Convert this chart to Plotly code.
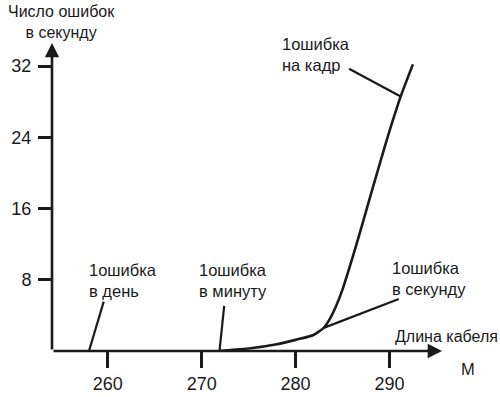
import plotly.graph_objects as go

# ---- data ----
cable_len = [271.8, 275.2, 278.0, 280.0, 281.9, 283.0, 283.7, 284.3, 285.0, 286.5, 288.0, 289.6, 291.2, 292.5]
errors_per_sec = [0.0, 0.3, 0.75, 1.25, 1.8, 2.6, 3.7, 5.0, 6.9, 12.0, 17.5, 23.3, 28.6, 32.2]

x_ticks = [260, 270, 280, 290]
y_ticks = [8, 16, 24, 32]

# leader lines: (label point -> curve point)
leader_day_x, leader_day_y = [259.57, 258.0], [5.55, 0.0]
leader_min_x, leader_min_y = [272.4, 271.9], [5.06, 0.0]
leader_sec_x, leader_sec_y = [291.0, 283.0], [5.85, 2.6]
leader_frame_x, leader_frame_y = [285.7, 291.2], [31.7, 28.6]

labels = ["1ошибка<br>в день", "1ошибка<br>в минуту", "1ошибка<br>в секунду", "1ошибка<br>на кадр"]

INK = "#1a1a1a"
TXT_FONT = "Liberation Sans, Arial"
NUM_FONT = "Liberation Sans, Arial"
TXT_SIZE = 16.5

X0, X1 = 254.06, 295.6
Y0, Y1 = 0.0, 34.6

W, H = 500, 397

fig = go.Figure()
fig.add_trace(go.Scatter(x=cable_len, y=errors_per_sec, mode="lines",
                         line=dict(color=INK, width=2.6, shape="spline", smoothing=0.5),
                         cliponaxis=False, hoverinfo="skip"))
for lx, ly in [(leader_day_x, leader_day_y), (leader_min_x, leader_min_y),
               (leader_sec_x, leader_sec_y), (leader_frame_x, leader_frame_y)]:
    fig.add_trace(go.Scatter(x=lx, y=ly, mode="lines", line=dict(color=INK, width=2.2),
                             cliponaxis=False, hoverinfo="skip"))

ann = []
# axis lines with arrows
ann.append(dict(x=X1, y=0, ax=X0, ay=0, xref="x", yref="y", axref="x", ayref="y",
                showarrow=True, arrowhead=2, arrowsize=1.1, arrowwidth=2.6, arrowcolor=INK, text=""))
ann.append(dict(x=X0, y=Y1, ax=X0, ay=0, xref="x", yref="y", axref="x", ayref="y",
                showarrow=True, arrowhead=2, arrowsize=1.1, arrowwidth=2.6, arrowcolor=INK, text=""))

label_pos = [(257.78, 7.87), (269.5, 7.87), (290.07, 8.1), (278.37, 33.3)]
for (tx, ty), t in zip(label_pos, labels):
    ann.append(dict(x=tx, y=ty, xref="x", yref="y", text=t, showarrow=False, xanchor="left",
                    yanchor="middle", align="left", font=dict(family=TXT_FONT, size=TXT_SIZE, color=INK)))

ann.append(dict(x=0.0243, y=1.068, xref="paper", yref="paper", text="Число ошибок<br>в секунду",
                showarrow=False, xanchor="center", yanchor="middle", align="center",
                font=dict(family=TXT_FONT, size=16, color=INK)))
ann.append(dict(x=0.8744, y=0.0487, xref="paper", yref="paper", text="Длина кабеля", showarrow=False,
                xanchor="left", yanchor="middle", font=dict(family=TXT_FONT, size=16, color=INK)))
ann.append(dict(x=1.0674, y=-0.0584, xref="paper", yref="paper", text="М", showarrow=False,
                xanchor="center", yanchor="middle", font=dict(family=TXT_FONT, size=TXT_SIZE, color=INK)))

fig.update_layout(
    width=W, height=H,
    margin=dict(l=51.5, r=500 - 441.7, t=43, b=397 - 351, pad=0),
    paper_bgcolor="white", plot_bgcolor="white",
    showlegend=False,
    annotations=ann,
    xaxis=dict(range=[X0, X1], tickvals=x_ticks, ticks="outside", ticklen=16, tickwidth=2.6,
               tickcolor=INK, showline=False, showgrid=False, zeroline=False, automargin=False,
               tickfont=dict(family=NUM_FONT, size=18, color=INK), fixedrange=True),
    yaxis=dict(range=[Y0, Y1], tickvals=y_ticks, ticks="outside", ticklen=13, tickwidth=2.6,
               tickcolor=INK, showline=False, showgrid=False, zeroline=False, automargin=False,
               ticklabelstandoff=3,
               tickfont=dict(family=NUM_FONT, size=18, color=INK), fixedrange=True),
)

fig.write_html("out.html", config={"displayModeBar": False},
               post_script="document.body.style.margin='0';document.body.style.overflow='hidden';")
